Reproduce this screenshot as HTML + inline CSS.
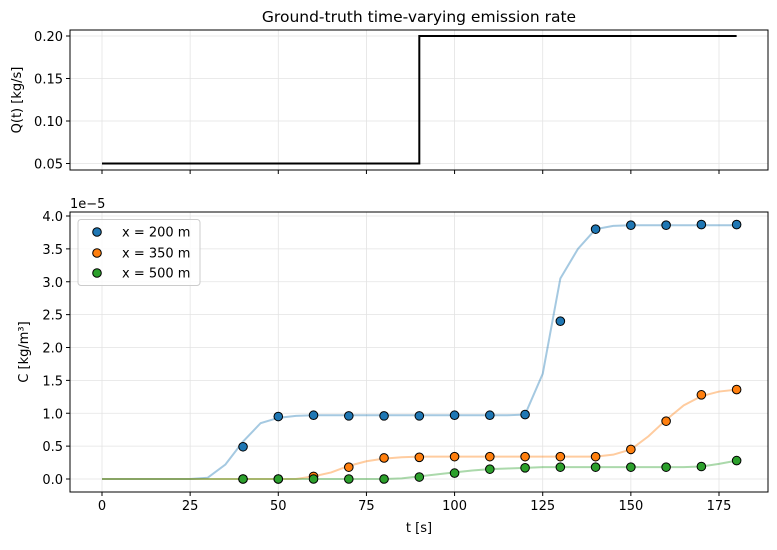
<!DOCTYPE html>
<html><head><meta charset="utf-8"><style>
body{margin:0;background:#fff;}
svg{font-family:"DejaVu Sans","Liberation Sans",sans-serif;}
</style></head><body>
<svg id="c" width="777" height="545" viewBox="0 0 777 545"></svg>
<script>
const qTimes=[0,90,90,180];
const qValues=[0.05,0.05,0.2,0.2];
const obsTimes=[40,50,60,70,80,90,100,110,120,130,140,150,160,170,180];
const obs200=[0.49,0.95,0.97,0.96,0.96,0.96,0.97,0.97,0.98,2.4,3.8,3.86,3.86,3.87,3.87];
const obs350=[0,0,0.04,0.18,0.32,0.33,0.34,0.34,0.34,0.34,0.34,0.45,0.88,1.28,1.36];
const obs500=[0,0,0,0,0,0.03,0.09,0.15,0.17,0.18,0.18,0.18,0.18,0.19,0.28];
const curveTimes=[0,5,10,15,20,25,30,35,40,45,50,55,60,65,70,75,80,85,90,95,100,105,110,115,120,125,130,135,140,145,150,155,160,165,170,175,180];
const curve200=[0,0,0,0,0,0,0.02,0.22,0.57,0.85,0.93,0.96,0.97,0.97,0.97,0.97,0.97,0.97,0.97,0.97,0.97,0.97,0.97,0.97,0.98,1.6,3.05,3.5,3.8,3.85,3.86,3.86,3.86,3.86,3.86,3.86,3.86];
const curve350=[0,0,0,0,0,0,0,0,0,0,0,0,0.04,0.1,0.2,0.27,0.31,0.33,0.34,0.34,0.34,0.34,0.34,0.34,0.34,0.34,0.34,0.34,0.34,0.37,0.45,0.65,0.9,1.12,1.26,1.33,1.36];
const curve500=[0,0,0,0,0,0,0,0,0,0,0,0,0,0,0,0,0,0.01,0.04,0.07,0.1,0.13,0.15,0.16,0.17,0.18,0.18,0.18,0.18,0.18,0.18,0.18,0.18,0.18,0.19,0.23,0.28];
const xTicks=[0,25,50,75,100,125,150,175];
const qTicks=[0.05,0.10,0.15,0.20];
const cTicks=[0,0.5,1,1.5,2,2.5,3,3.5,4];

const svg=document.getElementById('c');
const NS='http://www.w3.org/2000/svg';
function mk(tag,attrs,parent){const e=document.createElementNS(NS,tag);for(const k in attrs)e.setAttribute(k,attrs[k]);(parent||svg).appendChild(e);return e;}
const X=t=>102+t*617/175;
const QY=v=>163.5-(v-0.05)*127.5/0.15;
const CY=v=>479-v*65.75;
const L=70,R=768,T1=30,B1=170,T2=212,B2=492;

const g1=mk('g',{});

xTicks.forEach(t=>{mk('line',{x1:X(t),x2:X(t),y1:T1,y2:B1,stroke:'#e3e3e3','stroke-width':0.8},g1);mk('line',{x1:X(t),x2:X(t),y1:T2,y2:B2,stroke:'#e3e3e3','stroke-width':0.8},g1);});
qTicks.forEach(v=>mk('line',{x1:L,x2:R,y1:QY(v),y2:QY(v),stroke:'#e3e3e3','stroke-width':0.8},g1));
cTicks.forEach(v=>mk('line',{x1:L,x2:R,y1:CY(v),y2:CY(v),stroke:'#e3e3e3','stroke-width':0.8},g1));

const qp=mk('polyline',{points:qTimes.map((t,i)=>X(t)+','+QY(qValues[i])).join(' '),fill:'none',stroke:'#000','stroke-width':2});



const cols=['#1f77b4','#ff7f0e','#2ca02c'];
[[curve200,'curve-200m'],[curve350,'curve-350m'],[curve500,'curve-500m']].forEach((c,i)=>{
 const p=mk('polyline',{points:curveTimes.map((t,j)=>X(t)+','+CY(c[0][j])).join(' '),fill:'none',stroke:cols[i],'stroke-opacity':0.4,'stroke-width':2});
 
 
});
[[obs200,'obs-200m'],[obs350,'obs-350m'],[obs500,'obs-500m']].forEach((o,i)=>{
 obsTimes.forEach((t,j)=>{const d=mk('circle',{cx:X(t),cy:CY(o[0][j]),r:4.3,fill:cols[i],stroke:'#000','stroke-width':1});
 
 });
});

[[T1,B1,'top-axes'],[T2,B2,'bottom-axes']].forEach(a=>{const r=mk('rect',{x:L,y:a[0],width:R-L,height:a[1]-a[0],fill:'none',stroke:'#000','stroke-width':1});
 
 });

xTicks.forEach(t=>{
 mk('line',{x1:X(t),x2:X(t),y1:B1,y2:B1+4,stroke:'#000'});
 mk('line',{x1:X(t),x2:X(t),y1:B2,y2:B2+4,stroke:'#000'});
 const tx=mk('text',{x:X(t),y:B2+18,'text-anchor':'middle','font-size':13,fill:'#000'});tx.textContent=String(t);
 
 
});
qTicks.forEach(v=>{mk('line',{x1:L-4,x2:L,y1:QY(v),y2:QY(v),stroke:'#000'});
 const tx=mk('text',{x:L-7,y:QY(v)+5,'text-anchor':'end','font-size':13,fill:'#000'});tx.textContent=v.toFixed(2);
 
 });
cTicks.forEach(v=>{mk('line',{x1:L-4,x2:L,y1:CY(v),y2:CY(v),stroke:'#000'});
 const tx=mk('text',{x:L-7,y:CY(v)+5,'text-anchor':'end','font-size':13,fill:'#000'});tx.textContent=v.toFixed(1);
 
 });
</script>
<div style="position:absolute;left:0;top:0;width:777px;height:545px;pointer-events:none;">
<svg width="777" height="545" style="position:absolute;left:0;top:0" font-family="DejaVu Sans, Liberation Sans, sans-serif">
<text x="419" y="22" text-anchor="middle" font-size="15.5">Ground-truth time-varying emission rate</text>
<text x="0" y="0" transform="translate(21,100) rotate(-90)" text-anchor="middle" font-size="13">Q(t) [kg/s]</text>
<text x="0" y="0" transform="translate(28,352) rotate(-90)" text-anchor="middle" font-size="13">C [kg/m³]</text>
<text x="419" y="532" text-anchor="middle" font-size="13">t [s]</text>
<text x="70" y="208" font-size="13">1e−5</text>
<g>
<rect x="78" y="219.5" width="122" height="66" rx="3" fill="#fff" fill-opacity="0.8" stroke="#ccc"/>
<circle cx="97" cy="232" r="4.3" fill="#1f77b4" stroke="#000"/><text x="122" y="236.5" font-size="13">x = 200 m</text>
<circle cx="97" cy="253" r="4.3" fill="#ff7f0e" stroke="#000"/><text x="122" y="257.5" font-size="13">x = 350 m</text>
<circle cx="97" cy="273" r="4.3" fill="#2ca02c" stroke="#000"/><text x="122" y="277.5" font-size="13">x = 500 m</text>
</g>
</svg></div>
</body></html>
